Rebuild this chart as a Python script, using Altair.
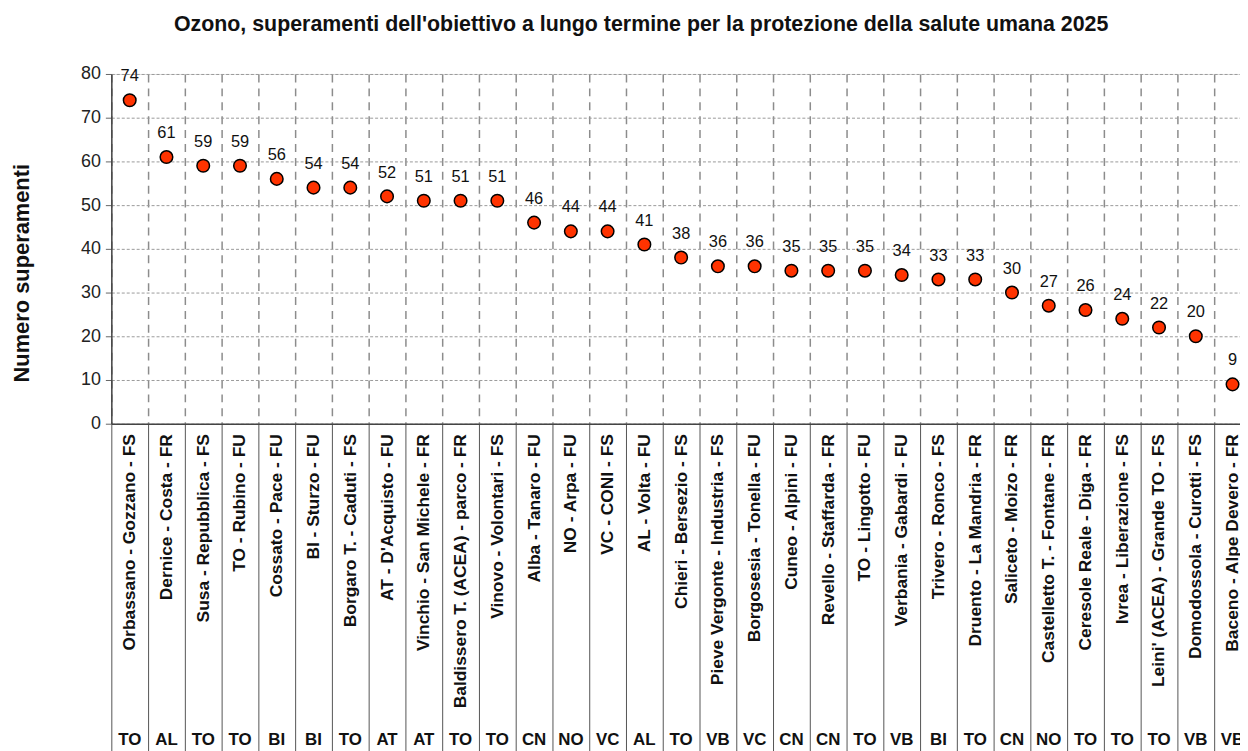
import altair as alt
import pandas as pd

stations = [
    "Orbassano - Gozzano - FS", "Dernice - Costa - FR", "Susa - Repubblica - FS",
    "TO - Rubino - FU", "Cossato - Pace - FU", "BI - Sturzo - FU",
    "Borgaro T. - Caduti - FS", "AT - D'Acquisto - FU", "Vinchio - San Michele - FR",
    "Baldissero T. (ACEA) - parco - FR", "Vinovo - Volontari - FS", "Alba - Tanaro - FU",
    "NO - Arpa - FU", "VC - CONI - FS", "AL - Volta - FU", "Chieri - Bersezio - FS",
    "Pieve Vergonte - Industria - FS", "Borgosesia - Tonella - FU", "Cuneo - Alpini - FU",
    "Revello - Staffarda - FR", "TO - Lingotto - FU", "Verbania - Gabardi - FU",
    "Trivero - Ronco - FS", "Druento - La Mandria - FR", "Saliceto - Moizo - FR",
    "Castelletto T. - Fontane - FR", "Ceresole Reale - Diga - FR", "Ivrea - Liberazione - FS",
    "Leini' (ACEA) - Grande TO - FS", "Domodossola - Curotti - FS", "Baceno - Alpe Devero - FR",
]
provinces = [
    "TO", "AL", "TO", "TO", "BI", "BI", "TO", "AT", "AT", "TO", "TO", "CN", "NO", "VC",
    "AL", "TO", "VB", "VC", "CN", "CN", "TO", "VB", "BI", "TO", "CN", "NO", "TO", "TO",
    "TO", "VB", "VB",
]
superamenti = [
    74, 61, 59, 59, 56, 54, 54, 52, 51, 51, 51, 46, 44, 44, 41, 38, 36, 36, 35, 35,
    35, 34, 33, 33, 30, 27, 26, 24, 22, 20, 9,
]
y_ticks = [0, 10, 20, 30, 40, 50, 60, 70, 80]

df = pd.DataFrame({"stazione": stations, "prov": provinces, "val": superamenti})

FONT = "Liberation Sans"
PLOT_H = 352
TICK = 330

xscale = alt.Scale(type="band", domain=stations, range=[0, 1147], paddingInner=0, paddingOuter=0)

yenc = alt.Y(
    "val:Q",
    scale=alt.Scale(domain=[0, 80], nice=False),
    axis=alt.Axis(
        values=y_ticks, title="Numero superamenti", titleFont=FONT, titleFontSize=22,
        titleFontWeight="bold", titleColor="#111",
        titleAngle=270, titleAlign="center", titleBaseline="middle",
        titleX=-90, titleY=200,
        labelFont=FONT, labelFontSize=18, labelColor="#222", labelPadding=5,
        tickSize=6, tickColor="#666", domainColor="#444", domainWidth=1.5,
        grid=True, gridDash=[3, 2], gridColor="#9a9a9a", gridWidth=1,
    ),
)

xmain = alt.X(
    "stazione:N", scale=xscale, sort=stations, title=None,
    axis=alt.Axis(
        orient="bottom", labelAngle=270, labelAlign="right", labelBaseline="middle",
        labelFont=FONT, labelFontSize=17.5, labelFontWeight="bold", labelColor="#111",
        labelPadding=10 - TICK, labelLimit=400, labelOverlap=False,
        tickBand="extent", tickSize=TICK, tickColor="#555", tickWidth=1,
        domainColor="#444", domainWidth=1.5,
        grid=True, gridDash=[8, 6], gridColor="#8c8c8c", gridWidth=1.5,
    ),
)

points = alt.Chart(df).mark_circle(
    size=160, color="#FF3300", stroke="#000", strokeWidth=1.5, opacity=1
).encode(x=xmain, y=yenc)

labels = alt.Chart(df).mark_text(
    dy=-24, fontSize=16.5, font=FONT, color="#111", baseline="middle"
).encode(x=alt.X("stazione:N", scale=xscale, sort=stations), y=alt.Y("val:Q"), text="val:Q")

prov = alt.Chart(df).mark_text(
    fontSize=17, font=FONT, fontWeight="bold", color="#111", baseline="middle"
).encode(
    x=alt.X("stazione:N", scale=xscale, sort=stations),
    y=alt.value(PLOT_H + 318),
    text="prov:N",
)

chart = (
    alt.layer(points, labels, prov)
    .properties(
        width=1136, height=PLOT_H,
        title=alt.TitleParams(
            "Ozono, superamenti dell'obiettivo a lungo termine per la protezione della salute umana 2025",
            anchor="start", frame="group", dx=63, offset=30, font=FONT, fontSize=21.5,
            fontWeight="bold", color="#111",
        ),
        autosize=alt.AutoSizeParams(type="none"),
        padding={"left": 104, "top": 64, "right": 0, "bottom": 327},
    )
    .configure_view(stroke=None)
    .configure(background="white")
)

chart.save("out.html", embed_options={"renderer": "svg", "actions": False})
